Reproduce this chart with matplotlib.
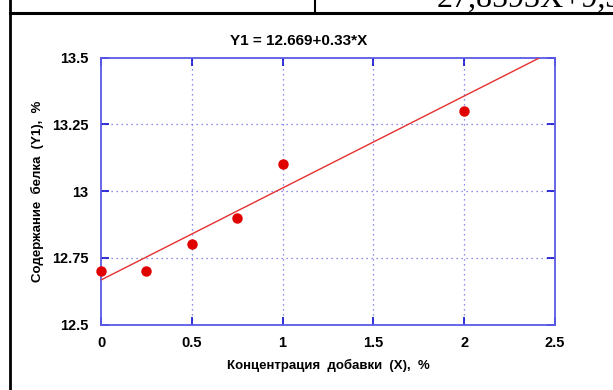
import matplotlib
matplotlib.use("Agg")
import matplotlib.pyplot as plt
from matplotlib.lines import Line2D

# Data
conc_x = [0, 0.25, 0.5, 0.75, 1.0, 2.0]
protein_y = [12.70, 12.70, 12.80, 12.90, 13.10, 13.30]
fit_x = [0.0, 2.41]
fit_y = [12.667, 13.497]
x_ticks = [0, 0.5, 1, 1.5, 2, 2.5]
x_ticklabels = ["0", "0.5", "1", "1.5", "2", "2.5"]
y_ticks = [12.5, 12.75, 13, 13.25, 13.5]
y_ticklabels = ["12.5", "12.75", "13", "13.25", "13.5"]
title_text = "Y1 = 12.669+0.33*X"
x_label = "Концентрация  добавки  (X),  %"
y_label = "Содержание  белка  (Y1),  %"
header_text = "27,8593X+9,3"

SANS = ["Liberation Sans Narrow", "Liberation Sans", "DejaVu Sans"]
W, H = 613, 390
fig = plt.figure(figsize=(W / 100, H / 100), dpi=100)
fig.patch.set_facecolor("white")

ax = fig.add_axes([101 / W, 1 - 324.6 / H, (555 - 101) / W, (324.6 - 57.5) / H])
ax.set_xlim(0, 2.5)
ax.set_ylim(12.5, 13.5)

spine_c = "#5a5ae6"
tick_c = "#1010d0"
for s in ax.spines.values():
    s.set_color(spine_c)
    s.set_linewidth(1.3)

ax.set_xticks(x_ticks)
ax.set_xticklabels(x_ticklabels)
ax.set_yticks(y_ticks)
ax.set_yticklabels(y_ticklabels)
ax.tick_params(axis="both", direction="in", length=6, width=1.2, color=tick_c,
               top=True, right=True, labelsize=10.5)
ax.tick_params(axis="x", pad=8)
ax.tick_params(axis="y", pad=9)
for lab in ax.get_xticklabels() + ax.get_yticklabels():
    lab.set_fontweight("bold")
    lab.set_family(SANS)

# grid at interior ticks
for xv in x_ticks[1:-1]:
    ax.axvline(xv, color="#6a6ae8", lw=0.9, ls=(0, (1, 3)), zorder=1)
for yv in y_ticks[1:-1]:
    ax.axhline(yv, color="#6a6ae8", lw=0.9, ls=(0, (1, 3)), zorder=1)

ax.plot(fit_x, fit_y, color="#e53030", lw=1.0, zorder=3)
ax.plot(conc_x, protein_y, "o", color="#e00000", ms=6.5, mec="#e00000", zorder=4, clip_on=False)

ax.set_xlabel(x_label, fontsize=9.5, fontweight="bold", family=SANS, labelpad=7)
ax.set_ylabel(y_label, fontsize=9.5, fontweight="bold", family=SANS, labelpad=6)

fig.text(299 / W, 1 - 41 / H, title_text, ha="center", va="center",
         fontsize=11, fontweight="bold", family=SANS)

# document table frame
fig.add_artist(Line2D([9.5 / W, 9.5 / W], [0, 1], color="black", lw=2.0, transform=fig.transFigure))
fig.add_artist(Line2D([9.5 / W, 1], [1 - 13.3 / H, 1 - 13.3 / H], color="black", lw=2.2, transform=fig.transFigure))
fig.add_artist(Line2D([315 / W, 315 / W], [1 - 13.3 / H, 1], color="black", lw=1.5, transform=fig.transFigure))
fig.text(437 / W, 1 - 7.3 / H, header_text, ha="left", va="baseline",
         fontsize=23, family=["Liberation Serif", "DejaVu Serif"])

fig.savefig("out.png", dpi=100)
